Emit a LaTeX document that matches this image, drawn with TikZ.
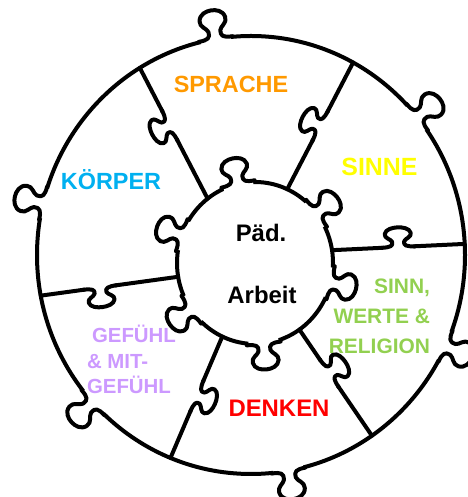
\documentclass[tikz,border=0pt]{standalone}
\usepackage{fontspec}
\setmainfont{Liberation Sans}
\usetikzlibrary{calc}

\definecolor{sprache}{HTML}{FF9900}
\definecolor{sinne}{HTML}{FFFF00}
\definecolor{koerper}{HTML}{00B0F0}
\definecolor{werte}{HTML}{92D050}
\definecolor{gefuehl}{HTML}{CC99FF}
\definecolor{denken}{HTML}{FF0000}

\tikzset{
  pics/knob/.style={code={
    \fill[white] (-15,-4) rectangle (15,4);
    \draw (-17,0) .. controls (-8,0) and (-5,2*#1) .. (-6,8*#1)
      .. controls (-7,12*#1) and (-14,14*#1) .. (-13,20*#1)
      .. controls (-12,27*#1) and (-5,29*#1) .. (0,29*#1)
      .. controls (5,29*#1) and (12,27*#1) .. (13,20*#1)
      .. controls (14,14*#1) and (7,12*#1) .. (6,8*#1)
      .. controls (5,2*#1) and (8,0) .. (17,0);
  }},
  lbl/.style={font=\bfseries\fontsize{#1}{#1}\selectfont, inner sep=0pt}
}

\begin{document}
\begin{tikzpicture}[x=1bp, y=1bp, line width=4bp, line cap=round, line join=round]
  \useasboundingbox (0,0) rectangle (468,497);
  \coordinate (oc) at (251,242);
  \coordinate (ic) at (255,234);
  % ring and hub
  \draw (oc) ellipse [x radius=214, y radius=219];
  \draw (ic) ellipse [x radius=78, y radius=81];
  % dividers, each with a tab
  \foreach \a/\b/\t in {127.4/121.3/0.56, 65.6/61.5/0.5, 9.1/2.9/0.5,
                        -55.3/-55.6/0.41, -114.8/-112.1/0.49, -170.2/-169.3/0.57} {
    \coordinate (din) at ($(ic)+(\a:78 and 81)$);
    \coordinate (dout) at ($(oc)+(\b:214 and 219)$);
    \draw (din) -- (dout);
    \path let \p1 = (din), \p2 = (dout), \n1 = {atan2(\y2-\y1,\x2-\x1)} in
      pic[rotate=\n1] at ($(din)!\t!(dout)$) {knob=0.68};
  }
  % knobs on ring and hub
  \foreach \a in {99.5, 39, 166.3, -24.6, -79.9, -137.6}
    \pic[rotate=\a-90] at ($(oc)+(\a:214 and 219)$) {knob=1};
  \foreach \a in {102.6, 37.9, 159.9, -144.8, -83.6, -14.1}
    \pic[rotate=\a-90] at ($(ic)+(\a:78 and 81)$) {knob=0.9};
  % labels
  \node[lbl=23.5, text=sprache, anchor=base] (sprache) at (231,404) {SPRACHE};
  \node[lbl=25, text=sinne, anchor=base] (sinne) at (379.5,321) {SINNE};
  \node[lbl=23.5, text=koerper, anchor=base] (koerper) at (111,307) {KÖRPER};
  \node[lbl=24, anchor=base] (paed) at (261,255) {Päd.};
  \node[lbl=24, anchor=base] (arbeit) at (262,193) {Arbeit};
  \node[lbl=24, text=denken, anchor=base] (denken) at (279,80) {DENKEN};
  \node[lbl=21, text=werte, anchor=base east] (werte1) at (432,203.7) {SINN,};
  \node[lbl=21, text=werte, anchor=base east] (werte2) at (432,173.7) {WERTE \&};
  \node[lbl=21, text=werte, anchor=base east] (werte3) at (432,143) {RELIGION};
  \node[lbl=20.5, text=gefuehl, anchor=base west] (gefuehl1) at (90,154.7) {GEFÜHL};
  \node[lbl=20.5, text=gefuehl, anchor=base west] (gefuehl2) at (85,128.7) {\& MIT-};
  \node[lbl=20.5, text=gefuehl, anchor=base west] (gefuehl3) at (85,103.7) {GEFÜHL};
\end{tikzpicture}
\end{document}
